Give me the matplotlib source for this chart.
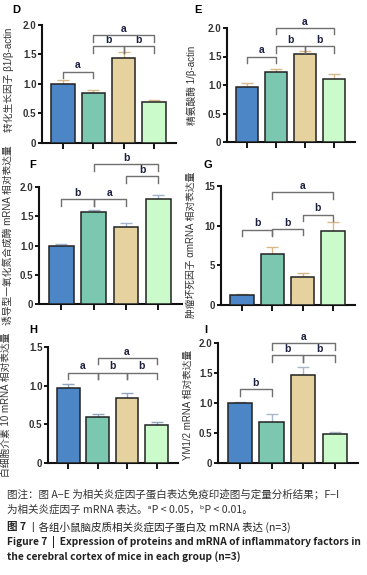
import matplotlib
matplotlib.use("Agg")
import matplotlib.pyplot as plt

plt.rcParams['font.family'] = ['Liberation Sans', 'Noto Sans CJK SC', 'DejaVu Sans']

W, H = 367, 575

bar_colors = ['#4d86c6', '#7cc7b0', '#e5d29f', '#cbfbcb']

# 各图数据：均值、误差、y 轴、显著性标注 (左, 右, 高度, 字母)
d_means = [1.00, 0.85, 1.44, 0.70]
d_errs = [0.06, 0.05, 0.10, 0.03]
d_yticks = [0, 0.5, 1.0, 1.5, 2.0]
d_ylabels = ['0', '0.5', '1.0', '1.5', '2.0']
d_brackets = [(0, 1, 1.21, 'a'), (1, 2, 1.64, 'b'), (2, 3, 1.64, 'b'), (1, 3, 1.83, 'a')]

e_means = [0.96, 1.22, 1.54, 1.10]
e_errs = [0.08, 0.06, 0.05, 0.09]
e_yticks = [0, 0.5, 1.0, 1.5, 2.0]
e_ylabels = ['0', '0.5', '1.0', '1.5', '2.0']
e_brackets = [(0, 1, 1.50, 'a'), (1, 2, 1.68, 'b'), (2, 3, 1.68, 'b'), (1, 3, 2.00, 'a')]

f_means = [1.00, 1.57, 1.31, 1.79]
f_errs = [0.02, 0.04, 0.08, 0.08]
f_yticks = [0, 0.5, 1.0, 1.5, 2.0]
f_ylabels = ['0', '0.5', '1.0', '1.5', '2.0']
f_brackets = [(0, 1, 1.79, 'b'), (1, 2, 1.79, 'a'), (2, 3, 2.18, 'b'), (1, 3, 2.39, 'b')]

g_means = [1.26, 6.43, 3.57, 9.37]
g_errs = [0.13, 0.92, 0.51, 1.13]
g_yticks = [0, 5, 10, 15]
g_ylabels = ['0', '5', '10', '15']
g_brackets = [(0, 1, 9.5, 'b'), (1, 2, 9.6, 'b'), (2, 3, 11.4, 'b'), (1, 3, 14.2, 'a')]

h_means = [0.97, 0.59, 0.84, 0.49]
h_errs = [0.05, 0.05, 0.07, 0.04]
h_yticks = [0, 0.5, 1.0, 1.5]
h_ylabels = ['0', '0.5', '1.0', '1.5']
h_brackets = [(0, 1, 1.17, 'a'), (1, 2, 1.17, 'b'), (2, 3, 1.17, 'b'), (1, 3, 1.36, 'a')]

i_means = [1.00, 0.69, 1.46, 0.49]
i_errs = [0.02, 0.13, 0.14, 0.03]
i_yticks = [0, 0.5, 1.0, 1.5, 2.0]
i_ylabels = ['0', '0.5', '1.0', '1.5', '2.0']
i_brackets = [(0, 1, 1.23, 'b'), (1, 2, 1.80, 'b'), (2, 3, 1.80, 'b'), (1, 3, 2.00, 'a')]

panels = [
    # letter, means, errs, yticks, ylabels, brackets, ylabel, box(px), errcolor, letter xy, ylabel x, ylabel y
    ('D', d_means, d_errs, d_yticks, d_ylabels, d_brackets, '转化生长因子 β1/β-actin',
     (42, 25, 176, 143), '#d8b888', (12, 10), 9, 80),
    ('E', e_means, e_errs, e_yticks, e_ylabels, e_brackets, '精氨酸酶 1/β-actin',
     (227, 28, 355, 142), '#d8b888', (194, 10), 192, 85),
    ('F', f_means, f_errs, f_yticks, f_ylabels, f_brackets, '诱导型一氧化氮合成酶 mRNA 相对表达量',
     (39, 187, 182, 304), '#9fb4cc', (29, 165), 8, 235),
    ('G', g_means, g_errs, g_yticks, g_ylabels, g_brackets, '肿瘤坏死因子 αmRNA 相对表达量',
     (221, 186, 355, 305), '#d8b888', (204, 165), 191, 245),
    ('H', h_means, h_errs, h_yticks, h_ylabels, h_brackets, '白细胞介素 10 mRNA 相对表达量',
     (48, 347, 178, 463), '#8fa4be', (29, 330), 6, 405),
    ('I', i_means, i_errs, i_yticks, i_ylabels, i_brackets, 'YM1/2 mRNA 相对表达量',
     (218, 343, 358, 463), '#a8b8c8', (204, 330), 188, 405),
]

fig = plt.figure(figsize=(W / 100, H / 100), dpi=100)

for letter, means, errs, yticks, ylabels, brackets, ylabel, box, ecol, lxy, ylx, yly in panels:
    x0, y0, x1, y1 = box
    ax = fig.add_axes([x0 / W, 1 - y1 / H, (x1 - x0) / W, (y1 - y0) / H])
    xs = list(range(len(means)))
    ax.bar(xs, means, width=0.77, color=bar_colors, edgecolor='#222222', linewidth=1.1, zorder=3)
    ax.errorbar(xs, means, yerr=[[0] * len(errs), errs], fmt='none', ecolor=ecol,
                elinewidth=1.0, capsize=4, capthick=1.0, zorder=2)
    ymax = yticks[-1]
    ax.set_ylim(0, ymax)
    ax.set_xlim(-0.69, 3.73)
    ax.set_yticks(yticks)
    ax.set_yticklabels(ylabels)
    ax.set_xticks(xs)
    ax.set_xticklabels([])
    for s in ['top', 'right']:
        ax.spines[s].set_visible(False)
    for s in ['left', 'bottom']:
        ax.spines[s].set_linewidth(1.5)
        ax.spines[s].set_color('#111111')
    ax.tick_params(axis='y', length=3, width=1.3, labelsize=7, pad=1, labelcolor='#333333')
    ax.tick_params(axis='x', length=4, width=1.3)
    for lab in ax.get_yticklabels():
        lab.set_fontweight('bold')
    leg = ymax * 0.055
    for a, b, y, txt in brackets:
        ax.plot([a, a, b, b], [y - leg, y, y, y - leg], color='#707070', lw=1.0,
                clip_on=False, zorder=4)
        ax.text((a + b) / 2, y + ymax * 0.01, txt, ha='center', va='bottom', fontsize=7.5,
                fontweight='bold', color='#1c2040')
    fig.text(lxy[0] / W, 1 - lxy[1] / H, letter, fontsize=8, fontweight='bold',
             ha='left', va='center')
    fig.text(ylx / W, 1 - yly / H, ylabel, rotation=90, fontsize=7, color='#333333',
             ha='center', va='center')

# 图注
cap_font = ['Noto Sans CJK SC', 'DejaVu Sans']
cs = 7.6
en = 7.35
fig.text(7 / W, 1 - 495 / H, '图注：图 A−E 为相关炎症因子蛋白表达免疫印迹图与定量分析结果；F−I',
         family=cap_font, fontsize=cs, color='#333333', va='center')
fig.text(7 / W, 1 - 510 / H, '为相关炎症因子 mRNA 表达。ᵃP < 0.05，ᵇP < 0.01。',
         family=cap_font, fontsize=cs, color='#333333', va='center')
t7 = fig.text(7 / W, 1 - 527 / H, '图 7 ', family=cap_font, fontsize=cs, fontweight='bold',
              color='#222222', va='center')
fig.canvas.draw()
ext = t7.get_window_extent()
fig.text(ext.x1 / W, 1 - 527 / H, '丨各组小鼠脑皮质相关炎症因子蛋白及 mRNA 表达 (n=3)',
         family=cap_font, fontsize=cs, color='#222222', va='center')
fig.text(7 / W, 1 - 542 / H, 'Figure 7  |  Expression of proteins and mRNA of inflammatory factors in',
         family=cap_font, fontsize=en, fontweight='bold', color='#222222', va='center')
fig.text(7 / W, 1 - 557 / H, 'the cerebral cortex of mice in each group (n=3)',
         family=cap_font, fontsize=en, fontweight='bold', color='#222222', va='center')

fig.savefig('out.png', dpi=100)
